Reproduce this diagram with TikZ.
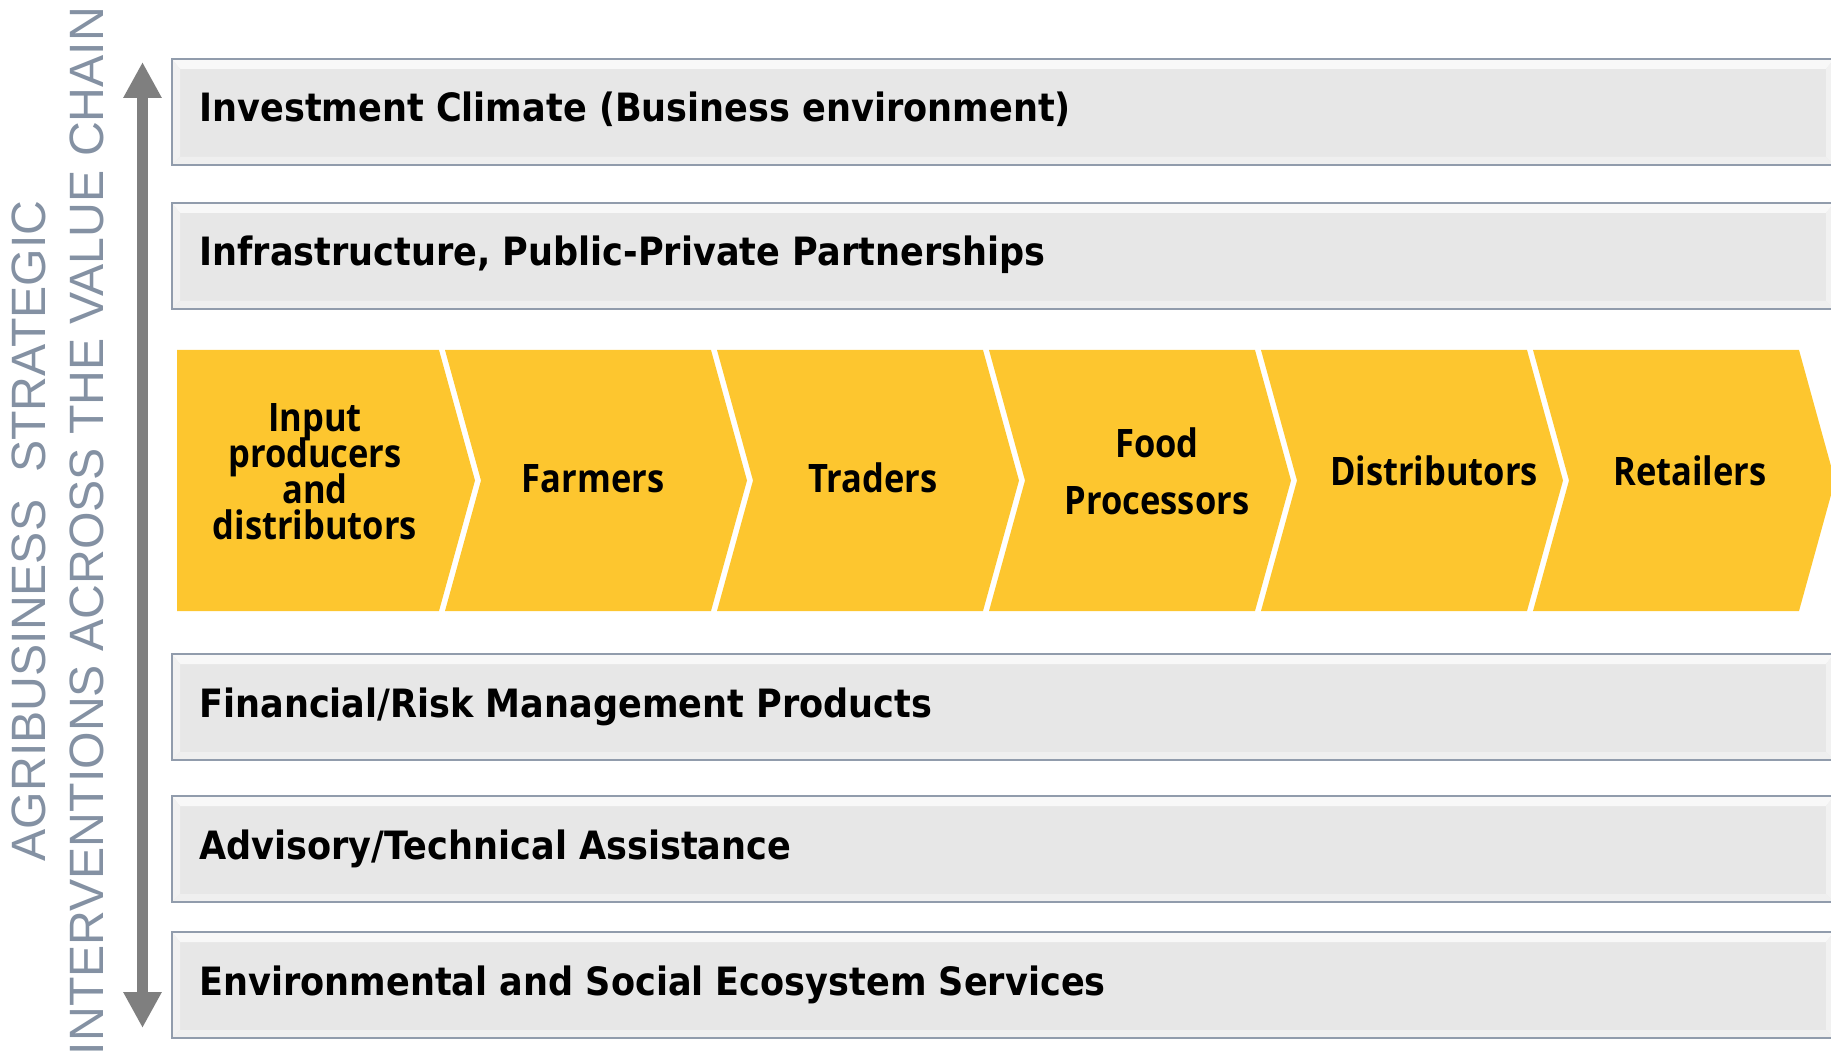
\documentclass[tikz,border=0pt]{standalone}
\usepackage{fontspec}
\usetikzlibrary{arrows.meta}
\setmainfont{Liberation Sans}
\newfontfamily\sidefont{Liberation Sans}
\newfontfamily\barfont[FakeStretch=0.90]{DejaVu Sans}
\newfontfamily\chevfont[FakeStretch=0.88]{Open Sans}

\definecolor{sidetext}{RGB}{132,145,163}
\definecolor{arrowgray}{RGB}{127,127,127}
\definecolor{barline}{RGB}{145,156,172}
\definecolor{barfill}{RGB}{231,231,231}
\definecolor{bevtop}{RGB}{248,248,248}
\definecolor{bevside}{RGB}{241,241,241}
\definecolor{bevbot}{RGB}{239,239,239}
\definecolor{chevyellow}{RGB}{253,198,47}

% tight leading for the chevron labels
\newcommand{\chevtype}{\chevfont\bfseries\fontsize{19.6pt}{18pt}\selectfont
  \lineskiplimit=-100pt\relax\lineskip=0pt\relax}

\tikzset{
  sidelabel/.style={text=sidetext, font=\sidefont\fontsize{24.1pt}{29pt}\selectfont,
    rotate=90, anchor=base, inner sep=0pt},
  bartext/.style={text=black, font=\barfont\bfseries\fontsize{19.5pt}{23pt}\selectfont,
    anchor=base west, inner sep=0pt},
  chevtext/.style={text=black, font=\chevtype, align=center, inner sep=0pt},
}

% one bevelled grey band: #1 = top edge, #2 = name, #3 = label
\newcommand{\bevelbar}[3]{%
  \coordinate (#2-nw) at (172,#1);
  \coordinate (#2-se) at (1834,#1+106);
  \fill[barfill] (#2-nw) rectangle (#2-se);
  \fill[bevtop]  (172,#1) -- (1834,#1) -- (1826,#1+10) -- (180,#1+10) -- cycle;
  \fill[bevside] (172,#1) -- (180,#1+10) -- (180,#1+98) -- (172,#1+106) -- cycle;
  \fill[bevbot]  (172,#1+106) -- (180,#1+98) -- (1826,#1+98) -- (1834,#1+106) -- cycle;
  \fill[bevside] (1834,#1) -- (1826,#1+10) -- (1826,#1+98) -- (1834,#1+106) -- cycle;
  \draw[barline, line width=1.4pt] (#2-nw) rectangle (#2-se);
  \node[bartext] (#2) at (199,#1+63) {#3};
}

\begin{document}
\begin{tikzpicture}[x=0.5pt, y=-0.5pt]
  \useasboundingbox (0,0) rectangle (1831,1053);
  \clip (0,0) rectangle (1831,1053);

  % side caption
  \node[sidelabel] (cap1) at (45,531) {AGRIBUSINESS\ \ STRATEGIC};
  \node[sidelabel] (cap2) at (103,531) {INTERVENTIONS ACROSS THE VALUE CHAIN};

  % double-headed vertical arrow
  \coordinate (atop) at (142.5,62);
  \coordinate (abot) at (142.5,1028);
  \draw[arrowgray, line width=5.75pt,
    {Triangle[length=18pt,width=18pt]}-{Triangle[length=18pt,width=18pt]}]
    (abot) -- (atop);

  % grey bands
  \bevelbar{59}{invest}{Investment Climate (Business environment)}
  \bevelbar{203}{infra}{Infrastructure, Public-Private Partnerships}
  \bevelbar{654}{finance}{Financial/Risk Management Products}
  \bevelbar{796}{advisory}{Advisory/Technical Assistance}
  \bevelbar{932}{envsoc}{Environmental and Social Ecosystem Services}

  % value chain chevrons
  \foreach \k in {1,...,6} {
    \pgfmathsetmacro\R{439+272*(\k-1)}
    \pgfmathsetmacro\L{\k==1 ? 177 : 439+272*(\k-2)+6}
    \pgfmathsetmacro\N{\k==1 ? 0 : 36}
    \fill[chevyellow] (\L,350) -- (\R,350) -- (\R+36,480.5) -- (\R,611)
      -- (\L,611) -- (\L+\N,480.5) -- cycle;
  }

  \node[chevtext] (c1) at (315,472) {Input\\producers\\and\\distributors};
  \node[chevtext, anchor=base] (c2) at (593,493) {Farmers};
  \node[chevtext, anchor=base] (c3) at (873,493) {Traders};
  \node[chevtext] (c4) at (1157,471) {Food\\[10.5pt]Processors};
  \node[chevtext, anchor=base] (c5) at (1434,486) {Distributors};
  \node[chevtext, anchor=base] (c6) at (1690,486) {Retailers};
\end{tikzpicture}
\end{document}
